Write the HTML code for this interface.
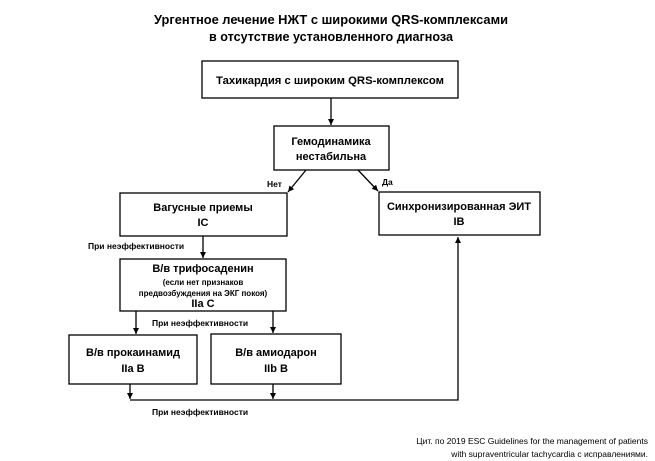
<!DOCTYPE html>
<html><head><meta charset="utf-8"><style>
html,body{margin:0;padding:0;background:#fff;}
svg{display:block;font-family:"Liberation Sans","DejaVu Sans",sans-serif;}
.b{font-weight:bold;fill:#000;}
</style></head><body>
<svg width="655" height="461" viewBox="0 0 655 461" xmlns="http://www.w3.org/2000/svg">
<defs><marker id="a" markerWidth="8" markerHeight="8" refX="6" refY="3" orient="auto" markerUnits="userSpaceOnUse"><path d="M0,0 L6,3 L0,6 z" fill="#000"/></marker></defs>
<g class="b" text-anchor="middle">
<text x="331" y="24" font-size="13" textLength="354" lengthAdjust="spacingAndGlyphs">Ургентное лечение НЖТ с широкими QRS-комплексами</text>
<text x="331" y="41" font-size="13" textLength="244" lengthAdjust="spacingAndGlyphs">в отсутствие установленного диагноза</text>
</g>
<g fill="none" stroke="#000" stroke-width="1.3">
<rect x="202" y="61" width="256" height="37"/>
<rect x="274" y="126" width="115" height="44"/>
<rect x="120" y="193" width="167" height="43"/>
<rect x="379" y="192" width="161" height="43"/>
<rect x="120" y="259" width="166" height="52"/>
<rect x="69" y="335" width="128" height="49"/>
<rect x="211" y="334" width="130" height="50"/>
<line x1="331" y1="98" x2="331" y2="125" marker-end="url(#a)"/>
<line x1="306" y1="170" x2="288" y2="192" marker-end="url(#a)"/>
<line x1="358" y1="170" x2="378" y2="191" marker-end="url(#a)"/>
<line x1="203" y1="236" x2="203" y2="258" marker-end="url(#a)"/>
<line x1="136" y1="311" x2="136" y2="334" marker-end="url(#a)"/>
<line x1="273" y1="311" x2="273" y2="333" marker-end="url(#a)"/>
<line x1="130" y1="384" x2="130" y2="399" marker-end="url(#a)"/>
<line x1="273" y1="384" x2="273" y2="399" marker-end="url(#a)"/>
<polyline points="130,400 458,400 458,237" marker-end="url(#a)"/>
</g>
<g class="b" text-anchor="middle" font-size="11">
<text x="330" y="84" textLength="228" lengthAdjust="spacingAndGlyphs">Тахикардия с широким QRS-комплексом</text>
<text x="331" y="145">Гемодинамика</text>
<text x="331" y="160">нестабильна</text>
<text x="203" y="211">Вагусные приемы</text>
<text x="203" y="226">IC</text>
<text x="459" y="210">Синхронизированная ЭИТ</text>
<text x="459" y="225">IB</text>
<text x="203" y="272">В/в трифосаденин</text>
<text x="203" y="285" font-size="8">(если нет признаков</text>
<text x="203" y="296" font-size="8">предвозбуждения на ЭКГ покоя)</text>
<text x="203" y="307">IIa C</text>
<text x="133" y="356">В/в прокаинамид</text>
<text x="133" y="372">IIa B</text>
<text x="276" y="356">В/в амиодарон</text>
<text x="276" y="372">IIb B</text>
</g>
<g class="b" font-size="8.5">
<text x="267" y="187">Нет</text>
<text x="382" y="185">Да</text>
<text x="88" y="249">При неэффективности</text>
<text x="152" y="326">При неэффективности</text>
<text x="152" y="415">При неэффективности</text>
</g>
<g font-size="8.5" text-anchor="end" fill="#000">
<text x="648" y="444">Цит. по 2019 ESC Guidelines for the management of patients</text>
<text x="648" y="457">with supraventricular tachycardia с исправлениями.</text>
</g>
</svg>
</body></html>
